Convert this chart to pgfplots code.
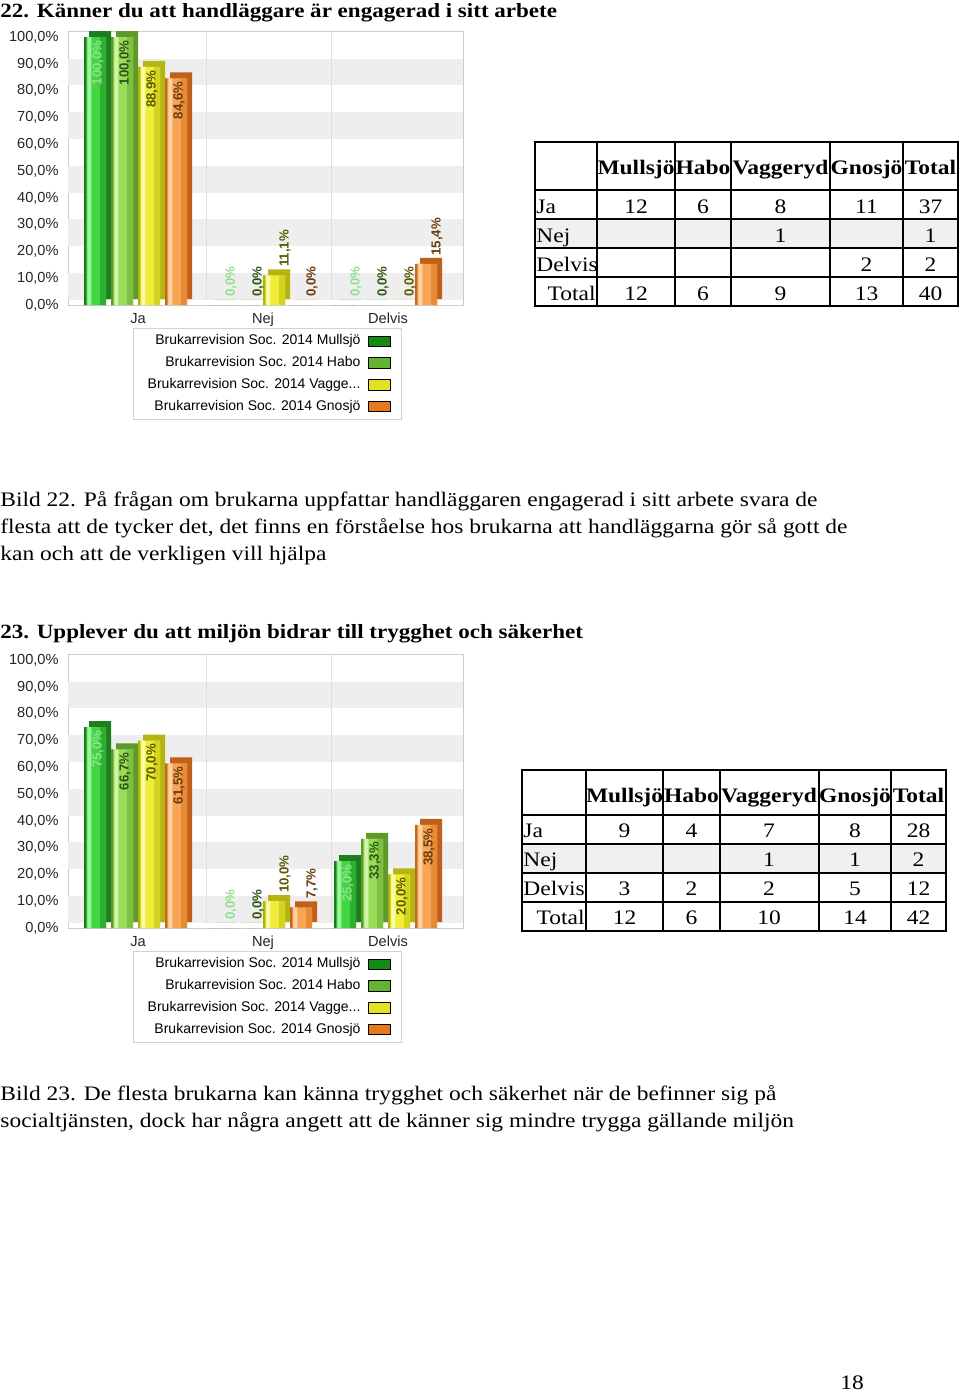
\documentclass[border=0pt]{standalone}
\usepackage{fontspec}
\setmainfont{Liberation Serif}[FakeStretch=1.14]
\newfontfamily\arial{Liberation Sans}
\usepackage{pgfplots}
\usepackage{pgfplotstable}
\pgfplotsset{compat=1.18}

% colours: b base, d 3D side, e left edge, h highlight, r right shade, t label, s legend swatch
\definecolor{Mb}{HTML}{42D642}\definecolor{Md}{HTML}{1E7D1E}\definecolor{Me}{HTML}{1C7A1C}
\definecolor{Mh}{HTML}{9CF59C}\definecolor{Mr}{HTML}{2EB02E}\definecolor{Mt}{HTML}{8FE08F}\definecolor{Ms}{HTML}{138A13}
\definecolor{Hb}{HTML}{9ADB5A}\definecolor{Hd}{HTML}{5E9A2A}\definecolor{He}{HTML}{5A9A28}
\definecolor{Hh}{HTML}{D0F5A8}\definecolor{Hr}{HTML}{7EC040}\definecolor{Ht}{HTML}{2B5512}\definecolor{Hs}{HTML}{62B432}
\definecolor{Vb}{HTML}{EEEE3A}\definecolor{Vd}{HTML}{B4B414}\definecolor{Ve}{HTML}{B0B010}
\definecolor{Vh}{HTML}{FAFAA8}\definecolor{Vr}{HTML}{D4D420}\definecolor{Vt}{HTML}{5A5800}\definecolor{Vs}{HTML}{E2E222}
\definecolor{Gb}{HTML}{F7A555}\definecolor{Gd}{HTML}{C0601A}\definecolor{Ge}{HTML}{C06A20}
\definecolor{Gh}{HTML}{FFD0A0}\definecolor{Gr}{HTML}{E88A38}\definecolor{Gt}{HTML}{6B3A0C}\definecolor{Gs}{HTML}{E8781E}
\definecolor{band}{HTML}{EEEEEE}
\definecolor{rowgray}{HTML}{F0F0F0}

\pgfplotstableread{
c M H V G
0 100 100 88.9 84.6
1 0 0 11.1 0
2 0 0 0 15.4
}\dataA
\pgfplotstableread{
c M H V G
0 75.0 66.7 70.0 61.5
1 0 0 10.0 7.7
2 25.0 33.3 20.0 38.5
}\dataB

\pgfplotsset{
  /pgf/number format/assume math mode=true,
  barchart/.style={
    scale only axis, width=197.5pt, height=136.6pt, anchor=south west,
    xmin=-0.56, xmax=2.6, ymin=0, ymax=102,
    axis line style={gray!40},
    xtick={0,1,2}, xticklabels={Ja,Nej,Delvis},
    ytick={0,10,...,100},
    yticklabel={\pgfmathprintnumber[fixed,fixed zerofill,precision=1,use comma]{\tick}\%},
    major tick length=0pt,
    tick label style={font=\arial\fontsize{7.3}{8}\selectfont, text=black!85},
    yticklabel style={xshift=-1.2pt},
    xticklabel style={yshift=-0.6pt},
    clip=false,
    legend plot pos=right, legend cell align=right,
    legend image code/.code={\fill[##1] (0pt,-2.6pt) rectangle (11pt,2.6pt);},
    legend style={at={(0.505,-0.084)}, anchor=north, draw=gray!35,
      font=\arial\fontsize{7}{8}\selectfont, row sep=0.3pt,
      inner xsep=5pt, inner ysep=1.2pt,
      /tikz/every odd column/.append style={column sep=2pt}},
  },
  labstyle/.style={mark=none, draw=none, forget plot, point meta=y,
    nodes near coords={\pgfmathprintnumber[fixed,fixed zerofill,precision=1,use comma]{\pgfplotspointmeta}\%}},
}

\newcommand\chartbg{%
  \fill[band] (axis cs:-0.56,2) rectangle (axis cs:2.6,12);
  \fill[band] (axis cs:-0.56,22) rectangle (axis cs:2.6,32);
  \fill[band] (axis cs:-0.56,42) rectangle (axis cs:2.6,52);
  \fill[band] (axis cs:-0.56,62) rectangle (axis cs:2.6,72);
  \fill[band] (axis cs:-0.56,82) rectangle (axis cs:2.6,92);
  \draw[gray!25] (axis cs:0.55,2) -- (axis cs:0.55,102);
  \draw[gray!25] (axis cs:1.55,2) -- (axis cs:1.55,102);
}
% #1 table, #2 column, #3 shift, #4 edge shift, #5 highlight shift, #6 right shift, #7 colour prefix
\newcommand\barset[7]{%
  \addplot[ybar, bar width=11pt, bar shift=#3pt, draw=none, fill=#7b,
    preaction={fill=#7d, transform canvas={shift={(2.5pt,3pt)}}}, forget plot] table[x=c,y=#2]{#1};
  \addplot[ybar, bar width=3pt, bar shift=#6pt, draw=none, fill=#7r, forget plot] table[x=c,y=#2]{#1};
  \addplot[ybar, bar width=2pt, bar shift=#5pt, draw=none, fill=#7h, forget plot] table[x=c,y=#2]{#1};
  \addplot[ybar, bar width=1.2pt, bar shift=#4pt, draw=none, fill=#7e, forget plot] table[x=c,y=#2]{#1};
}
% #1 table, #2 column, #3 xshift, #4 colour prefix
\newcommand\labset[4]{%
  \addplot[labstyle, restrict y to domain=18:1000,
    nodes near coords style={xshift=#3pt, rotate=90, anchor=east, inner xsep=1.5pt, inner ysep=1pt,
      text=#4t, font=\arial\bfseries\fontsize{6.6}{7}\selectfont}] table[x=c,y=#2]{#1};
  \addplot[labstyle, restrict y to domain=-1:18,
    nodes near coords style={xshift=#3pt, rotate=90, anchor=north west, inner xsep=4pt, inner ysep=1pt,
      text=#4t, font=\arial\bfseries\fontsize{6.6}{7}\selectfont}] table[x=c,y=#2]{#1};
}
\newcommand\chartlegend{%
  \addlegendimage{fill=Ms}\addlegendentry{Brukarrevision Soc. 2014 Mullsjö}
  \addlegendimage{fill=Hs}\addlegendentry{Brukarrevision Soc. 2014 Habo}
  \addlegendimage{fill=Vs}\addlegendentry{Brukarrevision Soc. 2014 Vagge...}
  \addlegendimage{fill=Gs}\addlegendentry{Brukarrevision Soc. 2014 Gnosjö}
}
\newcommand\allbars[1]{%
  \barset{#1}{M}{-21.5}{-26.4}{-24.3}{-17.5}{M}
  \barset{#1}{H}{-8}{-12.9}{-10.8}{-4}{H}
  \barset{#1}{V}{5.5}{0.6}{2.7}{9.5}{V}
  \barset{#1}{G}{19}{14.1}{16.2}{23}{G}
  \labset{#1}{M}{-20}{M}
  \labset{#1}{H}{-6.5}{H}
  \labset{#1}{V}{7}{V}
  \labset{#1}{G}{20.5}{G}
}

\begin{document}
\begin{tikzpicture}
\useasboundingbox[fill=white] (0,0) rectangle (480pt,-696pt);

% ---------- Section 22 ----------
\node[anchor=base west, inner sep=0, font=\bfseries\fontsize{10.1}{12}\selectfont]
  at (0pt,-9pt) {22. Känner du att handläggare är engagerad i sitt arbete};

\begin{axis}[barchart, at={(34pt,-152.5pt)}]
  \chartbg
  \allbars{\dataA}
  \chartlegend
\end{axis}

% table 1
\fill[rowgray] (267.5pt,-109.5pt) rectangle (479pt,-124pt);
\begin{scope}[line width=0.9pt]
\draw (267.5pt,-71pt) rectangle (479pt,-153pt);
\foreach \x in {298.5,337.5,365.5,415,451.5} \draw (\x pt,-71pt) -- (\x pt,-153pt);
\foreach \y in {95,109.5,124,138.5} \draw (267.5pt,-\y pt) -- (479pt,-\y pt);
\end{scope}
\begin{scope}[every node/.style={anchor=base, inner sep=0, font=\fontsize{10.3}{12}\selectfont}]
\foreach \x/\t in {318/Mullsjö,351.5/Habo,390.25/Vaggeryd,433.25/Gnosjö,465.25/Total}
  \node[font=\bfseries\fontsize{10.3}{12}\selectfont] at (\x pt,-87pt) {\t};
\node[anchor=base west] at (268pt,-106.5pt) {Ja};
\node[anchor=base west] at (268pt,-121pt) {Nej};
\node[anchor=base west] at (268pt,-135.5pt) {Delvis};
\node[anchor=base east] at (298pt,-150pt) {Total};
\foreach \x/\t in {318/12,351.5/6,390.25/8,433.25/11,465.25/37} \node at (\x pt,-106.5pt) {\t};
\foreach \x/\t in {390.25/1,465.25/1} \node at (\x pt,-121pt) {\t};
\foreach \x/\t in {433.25/2,465.25/2} \node at (\x pt,-135.5pt) {\t};
\foreach \x/\t in {318/12,351.5/6,390.25/9,433.25/13,465.25/40} \node at (\x pt,-150pt) {\t};
\end{scope}

\begin{scope}[every node/.style={anchor=base west, inner sep=0, font=\fontsize{10.3}{12}\selectfont}]
\node at (0pt,-253pt) {Bild 22. På frågan om brukarna uppfattar handläggaren engagerad i sitt arbete svara de};
\node at (0pt,-266.5pt) {flesta att de tycker det, det finns en förståelse hos brukarna att handläggarna gör så gott de};
\node at (0pt,-280pt) {kan och att de verkligen vill hjälpa};
\end{scope}

% ---------- Section 23 ----------
\node[anchor=base west, inner sep=0, font=\bfseries\fontsize{10.1}{12}\selectfont]
  at (0pt,-319pt) {23. Upplever du att miljön bidrar till trygghet och säkerhet};

\begin{axis}[barchart, at={(34pt,-464pt)}]
  \chartbg
  \allbars{\dataB}
  \chartlegend
\end{axis}

% table 2
\fill[rowgray] (261pt,-422pt) rectangle (473pt,-436.5pt);
\begin{scope}[line width=0.9pt]
\draw (261pt,-385pt) rectangle (473pt,-465.5pt);
\foreach \x in {293,331.5,360,409.5,445.5} \draw (\x pt,-385pt) -- (\x pt,-465.5pt);
\foreach \y in {407.5,422,436.5,451} \draw (261pt,-\y pt) -- (473pt,-\y pt);
\end{scope}
\begin{scope}[every node/.style={anchor=base, inner sep=0, font=\fontsize{10.3}{12}\selectfont}]
\foreach \x/\t in {312.25/Mullsjö,345.75/Habo,384.5/Vaggeryd,427.5/Gnosjö,459.25/Total}
  \node[font=\bfseries\fontsize{10.3}{12}\selectfont] at (\x pt,-401pt) {\t};
\node[anchor=base west] at (261.5pt,-418.5pt) {Ja};
\node[anchor=base west] at (261.5pt,-433pt) {Nej};
\node[anchor=base west] at (261.5pt,-447.5pt) {Delvis};
\node[anchor=base east] at (292.5pt,-462pt) {Total};
\foreach \x/\t in {312.25/9,345.75/4,384.5/7,427.5/8,459.25/28} \node at (\x pt,-418.5pt) {\t};
\foreach \x/\t in {384.5/1,427.5/1,459.25/2} \node at (\x pt,-433pt) {\t};
\foreach \x/\t in {312.25/3,345.75/2,384.5/2,427.5/5,459.25/12} \node at (\x pt,-447.5pt) {\t};
\foreach \x/\t in {312.25/12,345.75/6,384.5/10,427.5/14,459.25/42} \node at (\x pt,-462pt) {\t};
\end{scope}

\begin{scope}[every node/.style={anchor=base west, inner sep=0, font=\fontsize{10.3}{12}\selectfont}]
\node at (0pt,-550pt) {Bild 23. De flesta brukarna kan känna trygghet och säkerhet när de befinner sig på};
\node at (0pt,-563.5pt) {socialtjänsten, dock har några angett att de känner sig mindre trygga gällande miljön};
\node at (420pt,-694.5pt) {18};
\end{scope}
\end{tikzpicture}
\end{document}
